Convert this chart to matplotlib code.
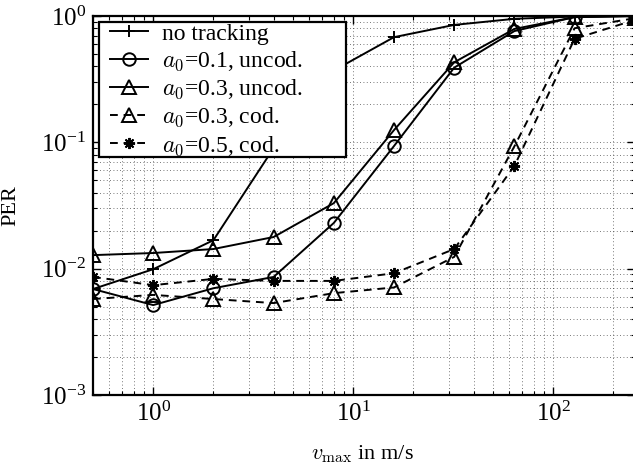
import matplotlib
matplotlib.use("Agg")
import matplotlib.pyplot as plt
from matplotlib.patches import Rectangle
from matplotlib.ticker import LogLocator, NullFormatter

plt.rcParams['font.family'] = ['Liberation Serif', 'DejaVu Serif']
plt.rcParams['mathtext.fontset'] = 'cm'

v = [0.5, 1, 2, 4, 8, 16, 32, 64, 128, 256]
no_tracking = [0.0069, 0.0099, 0.0168, 0.09, 0.37, 0.68, 0.85, 0.95, 0.99, 1.0]
a01_uncod = [0.0069, 0.00515, 0.0070, 0.0086, 0.023, 0.0935, 0.39, 0.76, 0.98, 1.0]
a03_uncod = [0.0128, 0.0133, 0.0143, 0.0178, 0.033, 0.125, 0.43, 0.79, 0.98, 1.0]
a03_cod = [0.00575, 0.0062, 0.00575, 0.00534, 0.0064, 0.0071, 0.0124, 0.093, 0.80, 0.96]
a05_cod = [0.0086, 0.0074, 0.0083, 0.0080, 0.0080, 0.0092, 0.0143, 0.065, 0.66, 0.93]

labels = ['no tracking', r'$a_0$=0.1, uncod.', r'$a_0$=0.3, uncod.',
          r'$a_0$=0.3, cod.', r'$a_0$=0.5, cod.']

W, H = 633, 471
fig = plt.figure(figsize=(W / 100, H / 100), dpi=100)
ax = fig.add_axes([93 / W, 1 - 395 / H, 541.8 / W, 379 / H])

lw = 1.4
ms = 9
ax.plot(v, no_tracking, '-', color='k', lw=lw, marker='+', ms=ms, mew=1.4, label=labels[0])
ax.plot(v, a01_uncod, '-', color='k', lw=lw, marker='o', ms=ms, mfc='none', mew=1.4, label=labels[1])
ax.plot(v, a03_uncod, '-', color='k', lw=lw, marker='^', ms=ms + 1, mfc='none', mew=1.4, label=labels[2])
ax.plot(v, a03_cod, '--', color='k', lw=lw, marker='^', ms=ms + 1, mfc='none', mew=1.4,
        dashes=(4, 3), label=labels[3])
ax.plot(v, a05_cod, '--', color='k', lw=lw, marker=(8, 2, 0), ms=ms - 1, mew=1.4,
        dashes=(4, 3), label=labels[4])

ax.set_xscale('log')
ax.set_yscale('log')
ax.set_xlim(0.5, 256)
ax.set_ylim(1e-3, 1)

ax.xaxis.set_major_locator(LogLocator(base=10))
ax.xaxis.set_minor_locator(LogLocator(base=10, subs=range(2, 10)))
ax.yaxis.set_minor_locator(LogLocator(base=10, subs=range(2, 10)))
ax.xaxis.set_minor_formatter(NullFormatter())
ax.yaxis.set_minor_formatter(NullFormatter())

ax.grid(True, which='both', linestyle=(0, (1, 3)), color='k', lw=0.6, alpha=0.7)
ax.tick_params(which='both', direction='in', top=True, right=True, labelsize=18)
ax.tick_params(which='major', length=6, width=1, pad=5)
ax.tick_params(which='minor', length=3, width=0.8)
for s in ax.spines.values():
    s.set_linewidth(1.6)

ax.set_xlabel(r'$v_{\max}$ in m/s', fontsize=16)
ax.xaxis.set_label_coords((362 - 93) / 541.8, -(443 - 395) / 379)
ax.set_ylabel('PER', fontsize=16)
ax.yaxis.set_label_coords(-(93 - 20) / 541.8, 0.5)

# legend frame (drawn separately so its padding can match the reference)
frame = Rectangle((99 / W, 1 - 157 / H), 247 / W, 135 / H, transform=fig.transFigure,
                  facecolor='white', edgecolor='k', lw=1.6, zorder=4, clip_on=False)
ax.add_artist(frame)

leg = ax.legend(loc='upper left',
                bbox_to_anchor=(110 / W, 1 - 23 / H),
                bbox_transform=fig.transFigure, fontsize=17, frameon=False,
                borderaxespad=0, handlelength=1.6, labelspacing=0.21, borderpad=0,
                handletextpad=0.6)
leg.set_zorder(5)

fig.savefig('out.png', dpi=100)
